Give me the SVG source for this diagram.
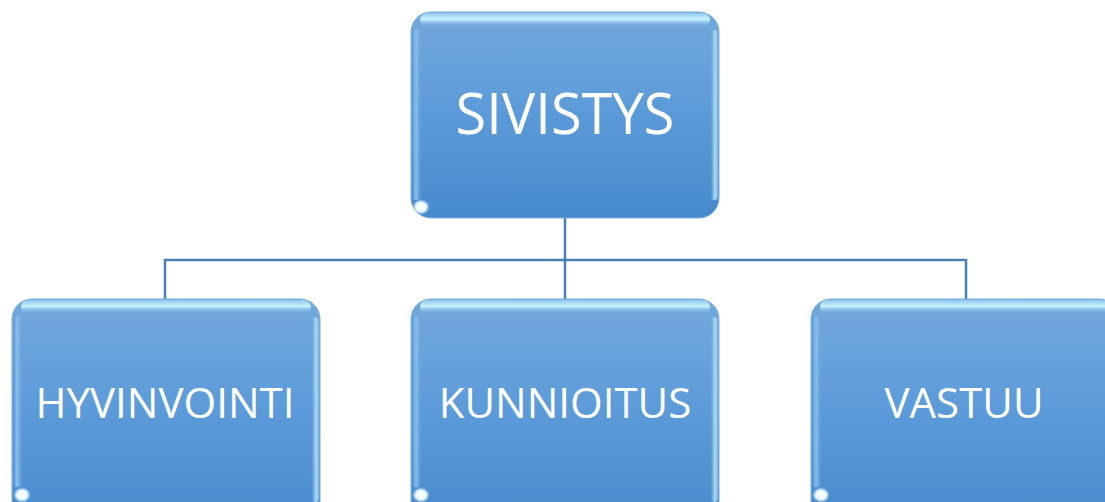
<svg xmlns="http://www.w3.org/2000/svg" width="1105" height="502" viewBox="0 0 1105 502">
<defs>
<linearGradient id="fill" x1="0" y1="0" x2="0" y2="1">
<stop offset="0" stop-color="#72a9dc"/>
<stop offset="0.5" stop-color="#5b9ad9"/>
<stop offset="1" stop-color="#468acb"/>
</linearGradient>
<linearGradient id="topHi" x1="0" y1="0" x2="0" y2="1">
<stop offset="0" stop-color="#8fc4ec"/>
<stop offset="0.45" stop-color="#c8f4ff"/>
<stop offset="1" stop-color="#72a9dc" stop-opacity="0"/>
</linearGradient>
<linearGradient id="leftHi" x1="0" y1="0" x2="1" y2="0">
<stop offset="0" stop-color="#5a95d0" stop-opacity="0.5"/>
<stop offset="0.4" stop-color="#8cc2ee"/>
<stop offset="1" stop-color="#6aa3da" stop-opacity="0"/>
</linearGradient>
<radialGradient id="spot">
<stop offset="0" stop-color="#ffffff"/>
<stop offset="0.6" stop-color="#e8f8ff"/>
<stop offset="1" stop-color="#9cc8ee" stop-opacity="0"/>
</radialGradient>
<linearGradient id="rightHi" x1="0" y1="0" x2="1" y2="0">
<stop offset="0" stop-color="#6aa3da" stop-opacity="0"/>
<stop offset="0.6" stop-color="#a9dcf6"/>
<stop offset="1" stop-color="#7fb3e2"/>
</linearGradient>
</defs>
<style>
.box{fill:url(#fill);stroke:#7fb0df;stroke-width:1}
.top{fill:url(#topHi)}
.left{fill:url(#leftHi)}
.right{fill:url(#rightHi)}
.spot{fill:url(#spot)}
.lbl{font-family:"Open Sans","Liberation Sans",sans-serif;fill:#ffffff;text-anchor:middle}
.conn{fill:none;stroke:#4a7fb1;stroke-width:2.5}
</style>
<rect width="1105" height="502" fill="#ffffff"/>
<g id="connectors">
<path class="conn" d="M565 218 V260 M165 260 H966 M165 259 V300 M565 260 V300 M966 259 V300"/>
</g>
<g id="node-sivistys">
<rect class="box" x="411" y="12" width="308" height="206" rx="20"/>
<rect class="top" x="420" y="13" width="290" height="14" rx="7"/>
<rect class="left" x="412" y="30" width="10" height="170" rx="4"/>
<rect class="right" x="710" y="30" width="8" height="170" rx="4"/>
<ellipse class="spot" cx="421" cy="207" rx="9" ry="8"/>
<text class="lbl" x="565" y="134" font-size="56">SIVISTYS</text>
</g>
<g id="node-hyvinvointi">
<rect class="box" x="12" y="299" width="308" height="230" rx="20"/>
<rect class="top" x="21" y="300" width="290" height="14" rx="7"/>
<rect class="left" x="13" y="317" width="10" height="170" rx="4"/>
<rect class="right" x="311" y="317" width="8" height="185" rx="4"/>
<ellipse class="spot" cx="22" cy="495" rx="9" ry="8"/>
<text class="lbl" x="165" y="418" font-size="42">HYVINVOINTI</text>
</g>
<g id="node-kunnioitus">
<rect class="box" x="411" y="299" width="308" height="230" rx="20"/>
<rect class="top" x="420" y="300" width="290" height="14" rx="7"/>
<rect class="left" x="412" y="317" width="10" height="170" rx="4"/>
<rect class="right" x="710" y="317" width="8" height="185" rx="4"/>
<ellipse class="spot" cx="421" cy="495" rx="9" ry="8"/>
<text class="lbl" x="565" y="418" font-size="42">KUNNIOITUS</text>
</g>
<g id="node-vastuu">
<rect class="box" x="811" y="299" width="308" height="230" rx="20"/>
<rect class="top" x="820" y="300" width="290" height="14" rx="7"/>
<rect class="left" x="812" y="317" width="10" height="170" rx="4"/>
<ellipse class="spot" cx="821" cy="495" rx="9" ry="8"/>
<text class="lbl" x="964" y="418" font-size="42">VASTUU</text>
</g>
</svg>
